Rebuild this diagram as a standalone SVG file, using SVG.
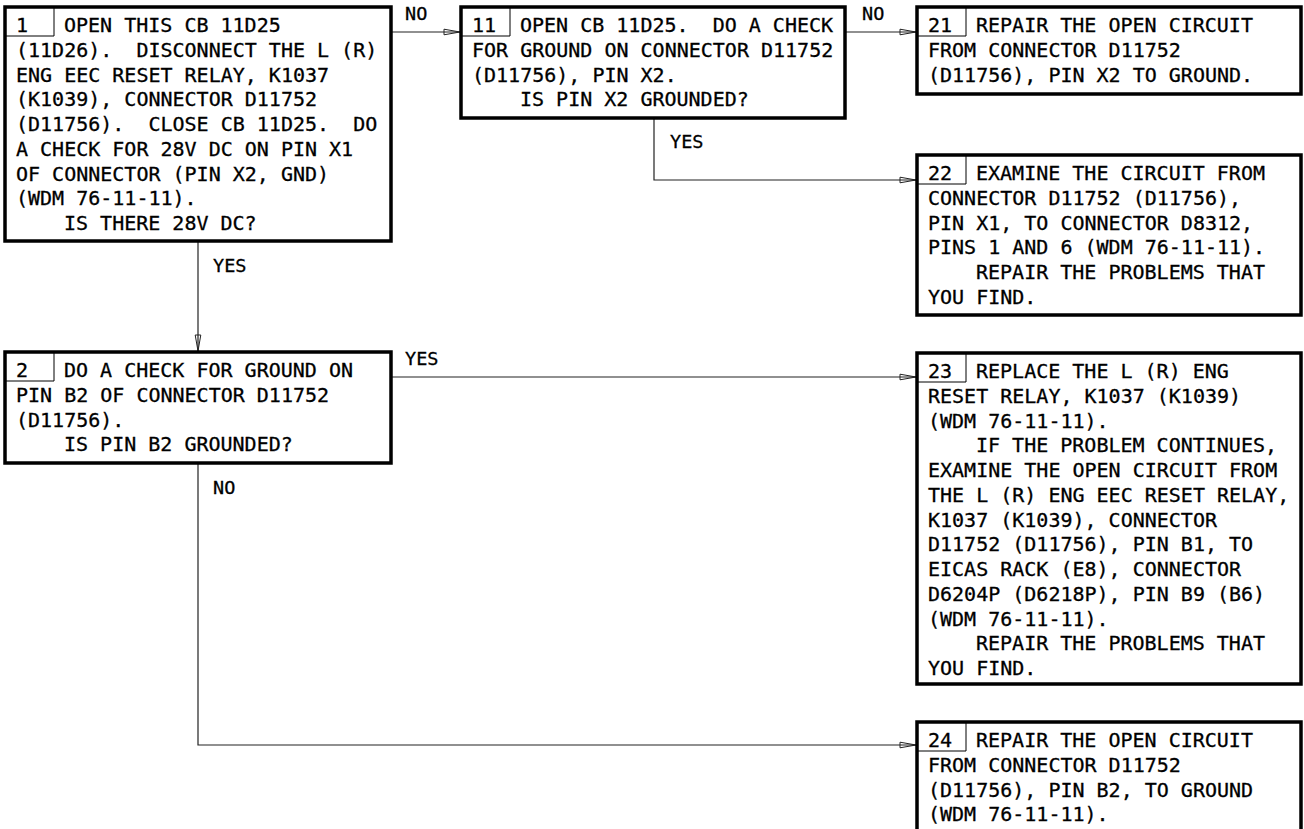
<svg xmlns="http://www.w3.org/2000/svg" width="1304" height="829" viewBox="0 0 1304 829">
<style>
.box{fill:#fff;stroke:#000;stroke-width:3.5}
.num{fill:none;stroke:#000;stroke-width:1}
text{font-family:"DejaVu Sans Mono","Liberation Mono",monospace;font-size:20px;fill:#000;stroke:#000;stroke-width:0.3;white-space:pre}
.lbl{font-size:18.5px}
.con{fill:none;stroke:#222;stroke-width:1.2}
</style>
<defs>
<marker id="arr" markerWidth="18" markerHeight="8" refX="17" refY="4" orient="auto" markerUnits="userSpaceOnUse">
<path d="M1,1.2 L17,4 L1,6.8 Z" fill="none" stroke="#222" stroke-width="1"/>
</marker>
</defs>
<g id="connectors">
<path class="con" d="M391,32 H460" marker-end="url(#arr)"/>
<text class="lbl" x="405" y="20">NO</text>
<path class="con" d="M845,32 H916" marker-end="url(#arr)"/>
<text class="lbl" x="862" y="20">NO</text>
<path class="con" d="M654,118 V180 H916" marker-end="url(#arr)"/>
<text class="lbl" x="670" y="148">YES</text>
<path class="con" d="M198,241 V351" marker-end="url(#arr)"/>
<text class="lbl" x="213" y="272">YES</text>
<path class="con" d="M391,377 H916" marker-end="url(#arr)"/>
<text class="lbl" x="405" y="365">YES</text>
<path class="con" d="M198,463 V745 H916" marker-end="url(#arr)"/>
<text class="lbl" x="213" y="494">NO</text>
</g>
<g id="node1">
<rect class="box" x="5" y="7" width="386" height="234"/>
<path class="num" d="M54,7 V36 H5"/>
<text x="16" y="32">1</text>
<text x="64" y="32">OPEN THIS CB 11D25</text>
<text x="16" y="56.75">(11D26).  DISCONNECT THE L (R)</text>
<text x="16" y="81.5">ENG EEC RESET RELAY, K1037</text>
<text x="16" y="106.25">(K1039), CONNECTOR D11752</text>
<text x="16" y="131">(D11756).  CLOSE CB 11D25.  DO</text>
<text x="16" y="155.75">A CHECK FOR 28V DC ON PIN X1</text>
<text x="16" y="180.5">OF CONNECTOR (PIN X2, GND)</text>
<text x="16" y="205.25">(WDM 76-11-11).</text>
<text x="64" y="230">IS THERE 28V DC?</text>
</g>
<g id="node11">
<rect class="box" x="461" y="7" width="384" height="111"/>
<path class="num" d="M510,7 V36 H461"/>
<text x="472" y="32">11</text>
<text x="520" y="32">OPEN CB 11D25.  DO A CHECK</text>
<text x="472" y="56.75">FOR GROUND ON CONNECTOR D11752</text>
<text x="472" y="81.5">(D11756), PIN X2.</text>
<text x="520" y="106.25">IS PIN X2 GROUNDED?</text>
</g>
<g id="node21">
<rect class="box" x="917" y="7" width="384" height="87"/>
<path class="num" d="M966,7 V36 H917"/>
<text x="928" y="32">21</text>
<text x="976" y="32">REPAIR THE OPEN CIRCUIT</text>
<text x="928" y="56.75">FROM CONNECTOR D11752</text>
<text x="928" y="81.5">(D11756), PIN X2 TO GROUND.</text>
</g>
<g id="node22">
<rect class="box" x="917" y="155" width="384" height="160"/>
<path class="num" d="M966,155 V184 H917"/>
<text x="928" y="180">22</text>
<text x="976" y="180">EXAMINE THE CIRCUIT FROM</text>
<text x="928" y="204.75">CONNECTOR D11752 (D11756),</text>
<text x="928" y="229.5">PIN X1, TO CONNECTOR D8312,</text>
<text x="928" y="254.25">PINS 1 AND 6 (WDM 76-11-11).</text>
<text x="976" y="279">REPAIR THE PROBLEMS THAT</text>
<text x="928" y="303.75">YOU FIND.</text>
</g>
<g id="node2">
<rect class="box" x="5" y="352" width="386" height="111"/>
<path class="num" d="M54,352 V381 H5"/>
<text x="16" y="377">2</text>
<text x="64" y="377">DO A CHECK FOR GROUND ON</text>
<text x="16" y="401.75">PIN B2 OF CONNECTOR D11752</text>
<text x="16" y="426.5">(D11756).</text>
<text x="64" y="451.25">IS PIN B2 GROUNDED?</text>
</g>
<g id="node23">
<rect class="box" x="917" y="353" width="384" height="331"/>
<path class="num" d="M966,353 V382 H917"/>
<text x="928" y="378">23</text>
<text x="976" y="378">REPLACE THE L (R) ENG</text>
<text x="928" y="402.75">RESET RELAY, K1037 (K1039)</text>
<text x="928" y="427.5">(WDM 76-11-11).</text>
<text x="976" y="452.25">IF THE PROBLEM CONTINUES,</text>
<text x="928" y="477">EXAMINE THE OPEN CIRCUIT FROM</text>
<text x="928" y="501.75">THE L (R) ENG EEC RESET RELAY,</text>
<text x="928" y="526.5">K1037 (K1039), CONNECTOR</text>
<text x="928" y="551.25">D11752 (D11756), PIN B1, TO</text>
<text x="928" y="576">EICAS RACK (E8), CONNECTOR</text>
<text x="928" y="600.75">D6204P (D6218P), PIN B9 (B6)</text>
<text x="928" y="625.5">(WDM 76-11-11).</text>
<text x="976" y="650.25">REPAIR THE PROBLEMS THAT</text>
<text x="928" y="675">YOU FIND.</text>
</g>
<g id="node24">
<rect class="box" x="917" y="722" width="384" height="120"/>
<path class="num" d="M966,722 V751 H917"/>
<text x="928" y="747">24</text>
<text x="976" y="747">REPAIR THE OPEN CIRCUIT</text>
<text x="928" y="771.75">FROM CONNECTOR D11752</text>
<text x="928" y="796.5">(D11756), PIN B2, TO GROUND</text>
<text x="928" y="821.25">(WDM 76-11-11).</text>
</g>
</svg>
